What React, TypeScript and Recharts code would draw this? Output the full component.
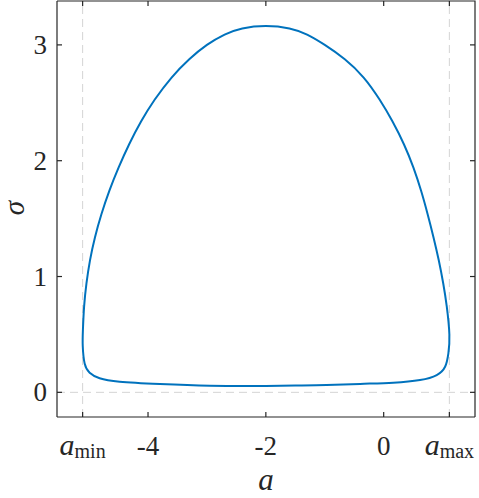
import { LineChart, Line, XAxis, YAxis, ReferenceLine } from "recharts";

// closed curve: along the bottom to the right, up the right side,
// over the top, down the left side and back along the bottom
const A_VALS = [
  -2.0, -1.5, -0.97, -0.4, 0.163, 0.617, 0.9, 1.042, 1.098, 1.115,
  1.071, 1.011, 0.935, 0.845, 0.745, 0.635, 0.505, 0.345, 0.148, -0.07,
  -0.34, -0.66, -1.0, -1.3, -1.6, -2.0, -2.4, -2.7, -3.0, -3.3,
  -3.6, -3.885, -4.116, -4.322, -4.5, -4.657, -4.79, -4.9, -4.985, -5.045,
  -5.085, -5.105, -5.108, -5.076, -4.991, -4.821, -4.481, -3.8, -2.95, -2.0,
];
const SIGMA_VALS = [
  0.055, 0.059, 0.063, 0.073, 0.083, 0.106, 0.149, 0.221, 0.337, 0.5,
  0.74, 0.94, 1.14, 1.34, 1.54, 1.74, 1.94, 2.14, 2.34, 2.528,
  2.718, 2.876, 3.0, 3.089, 3.142, 3.163, 3.142, 3.089, 3.0, 2.876,
  2.718, 2.528, 2.34, 2.14, 1.94, 1.74, 1.54, 1.34, 1.14, 0.94,
  0.74, 0.54, 0.4, 0.25, 0.169, 0.121, 0.092, 0.072, 0.057, 0.055,
];

const A_MIN = -5.11;
const A_MAX = 1.115;
const X_TICKS = [A_MIN, -4, -2, 0, A_MAX];
const X_TICK_LABELS = ["a_min", "-4", "-2", "0", "a_max"];
const Y_TICKS = [0, 1, 2, 3];

const X_DOMAIN = [-5.545, 1.55];
const Y_DOMAIN = [-0.213, 3.379];

const data = A_VALS.map((a, i) => ({ a, s: SIGMA_VALS[i] }));

const FONT = "'Liberation Serif', 'DejaVu Serif', serif";
const AXIS = "#262626";
const TICK_LEN = 5;

const W = 479;
const H = 498;
const MARGIN = { top: 1, right: 4, bottom: 0, left: 0 };
const Y_AXIS_W = 57;
const X_AXIS_H = 81;
const PLOT_LEFT = MARGIN.left + Y_AXIS_W;
const PLOT_TOP = MARGIN.top;
const PLOT_RIGHT = W - MARGIN.right;
const PLOT_BOTTOM = H - MARGIN.bottom - X_AXIS_H;

// tick positions for the box overlay (same linear mapping as the axes)
const tx = (v: number) => PLOT_LEFT + ((v - X_DOMAIN[0]) / (X_DOMAIN[1] - X_DOMAIN[0])) * (PLOT_RIGHT - PLOT_LEFT);
const ty = (v: number) => PLOT_BOTTOM - ((v - Y_DOMAIN[0]) / (Y_DOMAIN[1] - Y_DOMAIN[0])) * (PLOT_BOTTOM - PLOT_TOP);

function BottomTick(props: any) {
  const { x, y, index } = props;
  const label = X_TICK_LABELS[index];
  if (label === "a_min" || label === "a_max") {
    return (
      <text x={x} y={y + 38} textAnchor="middle" fontFamily={FONT} fontSize={30} fill={AXIS}>
        <tspan fontStyle="italic">a</tspan>
        <tspan fontSize={20} dy={3}>{label.slice(2)}</tspan>
      </text>
    );
  }
  return (
    <text x={x} y={y + 38} textAnchor="middle" fontFamily={FONT} fontSize={27} fill={AXIS}>
      {label}
    </text>
  );
}

function LeftTick(props: any) {
  const { x, y, payload } = props;
  return (
    <text x={x - 10} y={y + 9} textAnchor="end" fontFamily={FONT} fontSize={27} fill={AXIS}>
      {payload.value}
    </text>
  );
}

// top and right edges of the box plus the inward ticks on all four sides
function BoxOverlay() {
  return (
    <svg
      width={W}
      height={H}
      style={{ position: "absolute", left: 0, top: 0, pointerEvents: "none" }}
    >
      <path
        d={`M${PLOT_LEFT},${PLOT_TOP}H${PLOT_RIGHT}V${PLOT_BOTTOM}`}
        fill="none"
        stroke={AXIS}
        strokeWidth={1.2}
      />
      {X_TICKS.map((t) => (
        <g key={"x" + t}>
          <path d={`M${tx(t)},${PLOT_BOTTOM}v${-TICK_LEN}`} stroke={AXIS} strokeWidth={1.2} />
          <path d={`M${tx(t)},${PLOT_TOP}v${TICK_LEN}`} stroke={AXIS} strokeWidth={1.2} />
        </g>
      ))}
      {Y_TICKS.map((t) => (
        <g key={"y" + t}>
          <path d={`M${PLOT_LEFT},${ty(t)}h${TICK_LEN}`} stroke={AXIS} strokeWidth={1.2} />
          <path d={`M${PLOT_RIGHT},${ty(t)}h${-TICK_LEN}`} stroke={AXIS} strokeWidth={1.2} />
        </g>
      ))}
    </svg>
  );
}

export default function App() {
  return (
    <div style={{ position: "absolute", left: 0, top: 0, width: W, height: H, background: "#fff" }}>
      <LineChart width={W} height={H} data={data} margin={MARGIN}>
        <XAxis
          dataKey="a"
          type="number"
          domain={X_DOMAIN}
          allowDataOverflow
          ticks={X_TICKS}
          interval={0}
          height={X_AXIS_H}
          tickSize={0}
          tickMargin={0}
          tickLine={false}
          axisLine={{ stroke: AXIS, strokeWidth: 1.2 }}
          tick={BottomTick}
          label={{
            content: () => (
              <text x={266} y={490} textAnchor="middle" fontFamily={FONT} fontSize={31} fontStyle="italic" fill={AXIS}>
                a
              </text>
            ),
          }}
        />
        <YAxis
          type="number"
          domain={Y_DOMAIN}
          allowDataOverflow
          ticks={Y_TICKS}
          interval={0}
          width={Y_AXIS_W}
          tickSize={0}
          tickMargin={0}
          tickLine={false}
          axisLine={{ stroke: AXIS, strokeWidth: 1.2 }}
          tick={LeftTick}
          label={{
            content: () => (
              <text
                transform="translate(24,208) rotate(-90)"
                textAnchor="middle"
                fontFamily={FONT}
                fontSize={29}
                fontStyle="italic"
                fill={AXIS}
              >
                σ
              </text>
            ),
          }}
        />
        <ReferenceLine x={A_MIN} stroke="#d4d4d4" strokeDasharray="8 5" />
        <ReferenceLine x={A_MAX} stroke="#d4d4d4" strokeDasharray="8 5" />
        <ReferenceLine y={0} stroke="#d4d4d4" strokeDasharray="8 5" />
        <Line
          dataKey="s"
          type="natural"
          stroke="#0072BD"
          strokeWidth={2}
          dot={false}
          isAnimationActive={false}
        />
      </LineChart>
      <BoxOverlay />
    </div>
  );
}
